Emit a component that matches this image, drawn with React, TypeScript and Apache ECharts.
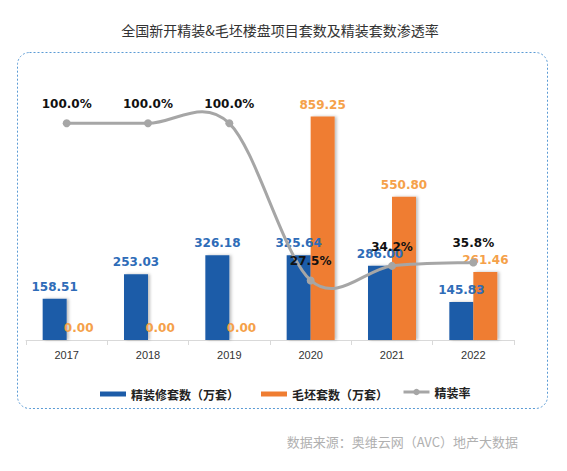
import React, { useEffect, useRef } from "react";
import * as echarts from "echarts";

const years = ["2017", "2018", "2019", "2020", "2021", "2022"];
const finished = [158.51, 253.03, 326.18, 325.64, 286.0, 145.83];
const rough = [0, 0, 0, 859.25, 550.8, 261.46];
const rate = [1.0, 1.0, 1.0, 0.275, 0.342, 0.358];

const BLUE = "#1d5ca8";
const ORANGE = "#ef7d31";
const GRAY = "#a6a6a6";
const LABEL_FONT = "'DejaVu Sans', sans-serif";
const CJK = "'Noto Sans CJK SC', sans-serif";

export default function App() {
  const ref = useRef<HTMLDivElement>(null);
  useEffect(() => {
    if (!ref.current) return;
    const chart = echarts.init(ref.current, null, { renderer: "svg" });
    const n = rate.length;
    const legendText = { fontSize: 12, fontWeight: "bold", color: "#222", fontFamily: CJK };
    chart.setOption({
      animation: false,
      backgroundColor: "#ffffff",
      title: {
        text: "全国新开精装&毛坯楼盘项目套数及精装套数渗透率",
        left: 275,
        textAlign: "center",
        top: 18,
        textStyle: { fontSize: 14, fontWeight: "normal", color: "#333", fontFamily: CJK },
      },
      graphic: [
        {
          type: "rect",
          shape: { x: 17.5, y: 52.5, width: 530, height: 356, r: 12 },
          style: { fill: "none", stroke: "#5b9bd5", lineWidth: 1, lineDash: [2, 2] },
          silent: true,
        },
        {
          type: "text",
          x: 518,
          y: 441,
          style: {
            text: "数据来源：奥维云网（AVC）地产大数据",
            fill: "#b0b0b0",
            fontSize: 13,
            align: "right",
            verticalAlign: "middle",
            fontFamily: CJK,
          },
        },
      ],
      legend: [
        {
          top: 388,
          left: 100,
          padding: 0,
          itemGap: 22,
          itemWidth: 26,
          itemHeight: 5,
          textStyle: legendText,
          data: [
            { name: "精装修套数（万套）", icon: "rect" },
            { name: "毛坯套数（万套）", icon: "rect" },
          ],
        },
        {
          top: 386,
          left: 402,
          padding: 0,
          itemWidth: 26,
          itemHeight: 8,
          textStyle: legendText,
          data: [{ name: "精装率", lineStyle: { color: GRAY, width: 3, opacity: 1 } }],
        },
      ],
      grid: { left: 26, right: 53, top: 80, bottom: 131, containLabel: false },
      xAxis: {
        type: "category",
        data: years,
        axisLine: { lineStyle: { color: "#d9d9d9" } },
        axisTick: { show: true, lineStyle: { color: "#d9d9d9" } },
        axisLabel: { color: "#333", fontSize: 11, margin: 9 },
      },
      yAxis: [
        { type: "value", min: 0, max: 1000, show: false, splitLine: { show: false } },
        { type: "value", min: 0, max: 1.2, show: false, splitLine: { show: false } },
      ],
      series: [
        {
          name: "精装修套数（万套）",
          type: "bar",
          data: finished,
          barWidth: 24,
          barGap: "0%",
          itemStyle: { color: BLUE, shadowColor: "rgba(0,0,0,0.25)", shadowBlur: 3, shadowOffsetX: 2 },
          label: {
            show: true,
            position: "top",
            distance: 6,
            formatter: (p: any) => p.value.toFixed(2),
            color: "#2e6cb8",
            fontWeight: "bold",
            fontSize: 12,
            fontFamily: LABEL_FONT,
          },
        },
        {
          name: "毛坯套数（万套）",
          type: "bar",
          data: rough,
          barWidth: 24,
          itemStyle: { color: ORANGE, shadowColor: "rgba(0,0,0,0.25)", shadowBlur: 3, shadowOffsetX: 2 },
          label: {
            show: true,
            position: "top",
            distance: 6,
            formatter: (p: any) => p.value.toFixed(2),
            color: "#f5a14a",
            fontWeight: "bold",
            fontSize: 12,
            fontFamily: LABEL_FONT,
          },
        },
        {
          name: "精装率曲线",
          type: "custom",
          yAxisIndex: 1,
          z: 4,
          silent: true,
          data: rate.map((v, i) => [i, v]),
          renderItem: (params: any, api: any) => {
            const i = params.dataIndex;
            if (i >= n - 1) return null;
            const pt = (k: number) => {
              const kk = Math.max(0, Math.min(n - 1, k));
              return api.coord([kk, rate[kk]]);
            };
            const p0 = pt(i - 1);
            const p1 = pt(i);
            const p2 = pt(i + 1);
            const p3 = pt(i + 2);
            const t = 1 / 6;
            return {
              type: "bezierCurve",
              shape: {
                x1: p1[0],
                y1: p1[1],
                x2: p2[0],
                y2: p2[1],
                cpx1: p1[0] + (p2[0] - p0[0]) * t,
                cpy1: p1[1] + (p2[1] - p0[1]) * t,
                cpx2: p2[0] - (p3[0] - p1[0]) * t,
                cpy2: p2[1] - (p3[1] - p1[1]) * t,
              },
              style: { stroke: GRAY, lineWidth: 3, fill: "none" },
            };
          },
        },
        {
          name: "精装率",
          type: "line",
          yAxisIndex: 1,
          data: rate,
          symbol: "circle",
          symbolSize: 8,
          z: 5,
          lineStyle: { color: GRAY, width: 3, opacity: 0 },
          itemStyle: { color: GRAY },
          label: {
            show: true,
            position: "top",
            distance: 9,
            formatter: (p: any) => (p.value * 100).toFixed(1) + "%",
            color: "#111",
            fontWeight: "bold",
            fontSize: 12,
            fontFamily: LABEL_FONT,
          },
        },
      ],
    });
    return () => chart.dispose();
  }, []);
  return <div ref={ref} style={{ position: "absolute", left: 0, top: 0, width: 567, height: 471 }} />;
}
